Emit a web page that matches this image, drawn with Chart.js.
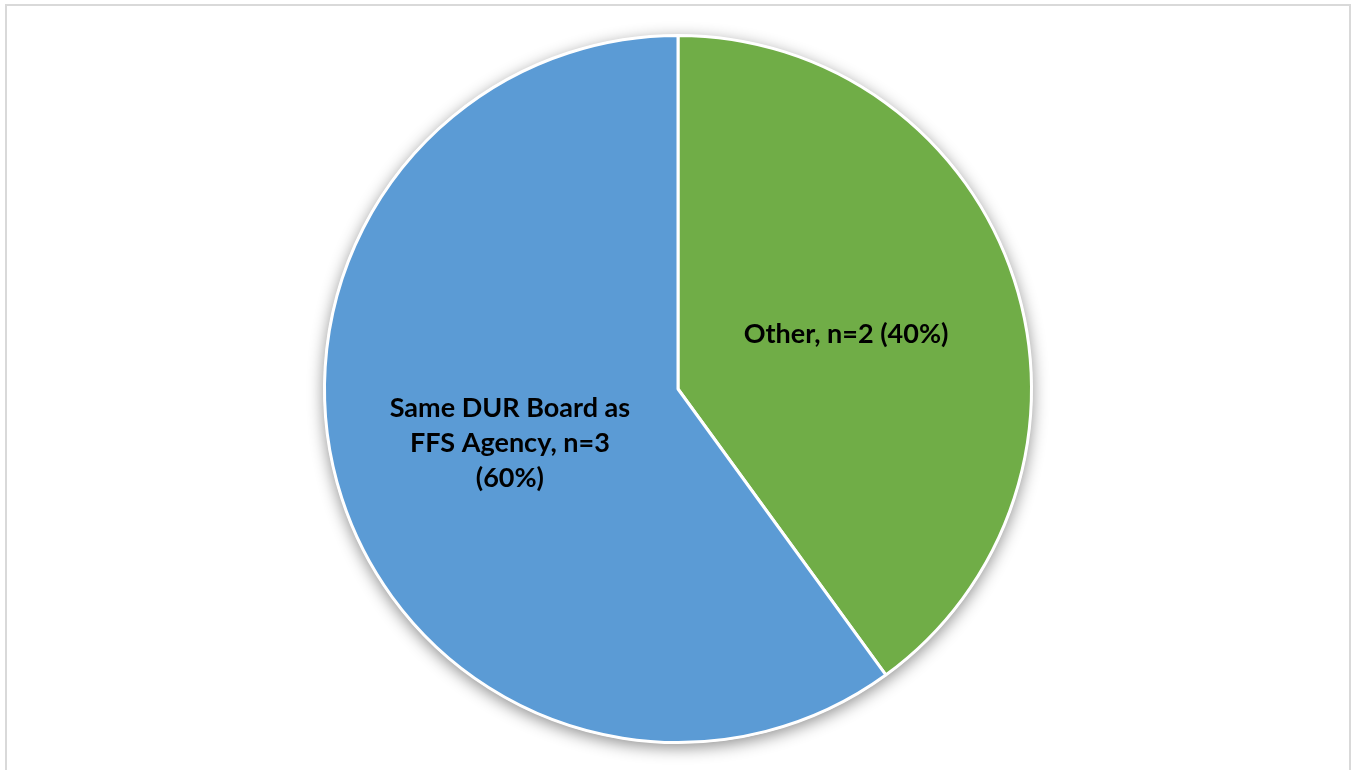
<!DOCTYPE html>
<html>
<head>
<meta charset="utf-8">
<script src="https://cdn.jsdelivr.net/npm/chart.js@4.4.1/dist/chart.umd.min.js"></script>
<style>
  html, body { margin: 0; padding: 0; background: #fff; }
  #wrap { position: relative; width: 1354px; height: 770px; overflow: hidden; }
  #frame {
    position: absolute; left: 5px; top: 4px; width: 1342px; height: 800px;
    border: 2px solid #d9d9d9; border-bottom: none;
  }
  #chart { position: absolute; left: 0; top: 0; }
</style>
</head>
<body>
<div id="wrap">
  <div id="frame"></div>
  <canvas id="chart" width="1354" height="770"></canvas>
</div>
<script>
// slice order: clockwise from 12 o'clock
const categories = ['Other', 'Same DUR Board as FFS Agency'];
const counts = [2, 3];
const shares = [40, 60];
const sliceLabels = [
  ['Other, n=2 (40%)'],
  ['Same DUR Board as', 'FFS Agency, n=3', '(60%)']
];
const sliceColors = ['#70ad47', '#5b9bd5'];

// soft shadow behind the whole pie
const pieShadow = {
  id: 'pieShadow',
  beforeDatasetsDraw(chart) {
    const arc = chart.getDatasetMeta(0).data[0];
    if (!arc) return;
    const ctx = chart.ctx;
    ctx.save();
    ctx.shadowColor = 'rgba(0,0,0,0.45)';
    ctx.shadowBlur = 16;
    ctx.shadowOffsetY = 4;
    ctx.fillStyle = '#fff';
    ctx.beginPath();
    ctx.arc(arc.x, arc.y, arc.outerRadius + 1, 0, Math.PI * 2);
    ctx.fill();
    ctx.restore();
  }
};

// labels inside each slice, halfway out along the middle angle
const sliceText = {
  id: 'sliceText',
  afterDatasetsDraw(chart) {
    const ctx = chart.ctx;
    const meta = chart.getDatasetMeta(0);
    ctx.save();
    ctx.font = 'bold 27px Lato, "Open Sans", sans-serif';
    ctx.fillStyle = '#000';
    ctx.textAlign = 'center';
    ctx.textBaseline = 'middle';
    meta.data.forEach((arc, i) => {
      const mid = (arc.startAngle + arc.endAngle) / 2;
      const r = arc.outerRadius * 0.5;
      const x = arc.x + Math.cos(mid) * r;
      const y = arc.y + Math.sin(mid) * r;
      const lines = sliceLabels[i];
      const lh = 35;
      lines.forEach((t, j) => {
        ctx.fillText(t, x, y + (j - (lines.length - 1) / 2) * lh);
      });
    });
    ctx.restore();
  }
};

new Chart(document.getElementById('chart'), {
  type: 'pie',
  data: {
    labels: categories,
    datasets: [{
      data: counts,
      backgroundColor: sliceColors,
      borderColor: '#ffffff',
      borderWidth: 3,
      hoverOffset: 0
    }]
  },
  options: {
    responsive: false,
    animation: false,
    events: [],
    layout: { padding: { top: 34, bottom: 26, left: 2, right: 0 } },
    plugins: {
      legend: { display: false },
      tooltip: { enabled: false }
    }
  },
  plugins: [pieShadow, sliceText]
});
</script>
</body>
</html>
